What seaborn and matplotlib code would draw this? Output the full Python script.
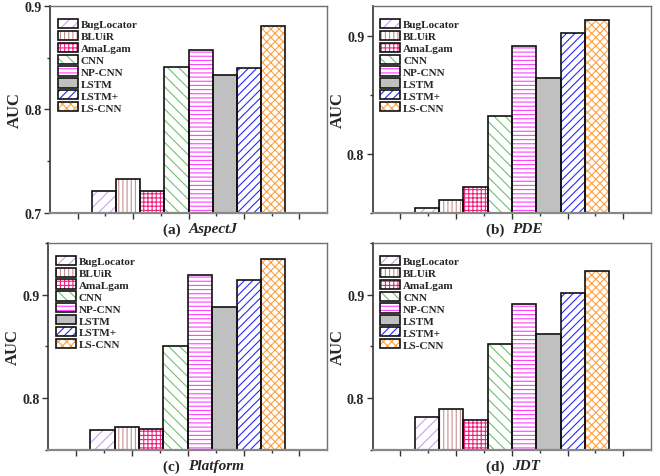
import matplotlib
matplotlib.use("Agg")
import matplotlib.pyplot as plt
from matplotlib.patches import Patch
from matplotlib.legend_handler import HandlerTuple
from matplotlib.ticker import MultipleLocator, FixedLocator
import seaborn as sns
import pandas as pd

methods = ["BugLocator", "BLUiR", "AmaLgam", "CNN", "NP-CNN", "LSTM", "LSTM+", "LS-CNN"]
aspectj = [0.721, 0.733, 0.721, 0.841, 0.857, 0.833, 0.840, 0.881]
pde = [0.754, 0.761, 0.772, 0.832, 0.891, 0.864, 0.902, 0.913]
platform = [0.769, 0.772, 0.770, 0.850, 0.919, 0.888, 0.914, 0.934]
jdt = [0.782, 0.790, 0.779, 0.852, 0.891, 0.862, 0.902, 0.923]

panel_labels = ["(a)", "(b)", "(c)", "(d)"]
panel_names = ["AspectJ", "PDE", "Platform", "JDT"]
panel_values = [aspectj, pde, platform, jdt]
ylims = [(0.7, 0.9), (0.75, 0.925), (0.75, 0.95), (0.75, 0.95)]

hatch_colors = ["#C9A0F5", "#C89090", "#F0207F", "#70C070", "#FF40FF", "#C0C0C0", "#2828FF", "#FFA040"]
face_colors = ["white", "white", "white", "white", "white", "#C0C0C0", "white", "white"]
hatches = ["///", "||||", "++++", "\\\\\\", "----", "", "////", "xxxx"]

sns.set_style("ticks")
plt.rcParams["font.family"] = ["Liberation Serif", "DejaVu Serif"]
plt.rcParams["font.weight"] = "bold"
plt.rcParams["hatch.linewidth"] = 0.8

fig = plt.figure(figsize=(6.6, 4.77), dpi=100)
positions = [
    [0.0758, 0.5514, 0.4197, 0.434],
    [0.5647, 0.5514, 0.4217, 0.434],
    [0.0732, 0.0545, 0.4227, 0.4346],
    [0.5647, 0.0545, 0.4217, 0.434],
]

for i in range(4):
    ax = fig.add_axes(positions[i])
    df = pd.DataFrame({"method": methods, "auc": panel_values[i]})
    sns.barplot(data=df, x="method", y="auc", hue="method", order=methods,
                hue_order=methods, palette=dict(zip(methods, face_colors)),
                width=1.0, legend=False, ax=ax, linewidth=0)
    for p, hc, h, fc in zip(ax.patches, hatch_colors, hatches, face_colors):
        p.set_facecolor(fc)
        p.set_edgecolor(hc)
        p.set_hatch(h)
        p.set_linewidth(0)
    sns.barplot(data=df, x="method", y="auc", order=methods, width=1.0,
                fill=False, edgecolor="#111111", linewidth=1.2, ax=ax,
                errorbar=None)
    ax.set_ylim(*ylims[i])
    ax.set_xlim(3.5 - 5.72, 3.5 + 5.72)
    ax.xaxis.set_major_locator(FixedLocator([3.5 + 2.29 * k for k in range(-2, 3)]))
    ax.xaxis.set_minor_locator(FixedLocator([3.5 + 2.29 * (k + 0.5) for k in range(-3, 3)]))
    ax.set_xticklabels([])
    ax.yaxis.set_major_locator(MultipleLocator(0.1))
    ax.yaxis.set_minor_locator(MultipleLocator(0.05))
    ax.tick_params(axis="both", which="major", direction="out", length=4, width=1, color="#333333")
    ax.tick_params(axis="both", which="minor", direction="out", length=2.5, width=1, color="#333333")
    ax.tick_params(axis="y", labelsize=10, pad=2)
    for lab in ax.get_yticklabels():
        lab.set_fontweight("bold")
    for side in ["top", "right"]:
        ax.spines[side].set_visible(True)
        ax.spines[side].set_color("#707070")
        ax.spines[side].set_linewidth(1.0)
    ax.spines["left"].set_color("#333333")
    ax.spines["left"].set_linewidth(1.2)
    ax.spines["bottom"].set_color("#888888")
    ax.spines["bottom"].set_linewidth(1.6)
    ax.set_ylabel("AUC", fontsize=12, fontweight="bold", labelpad=1)
    ax.set_xlabel("")
    ax.text(0.5, -0.077, panel_labels[i] + "  ", transform=ax.transAxes, ha="right",
            va="center", fontsize=11, fontweight="bold")
    ax.text(0.5, -0.077, panel_names[i], transform=ax.transAxes, ha="left",
            va="center", fontsize=11, fontweight="bold", fontstyle="italic")

    handles = []
    for hc, h, fc in zip(hatch_colors, hatches, face_colors):
        hp = Patch(facecolor=fc, edgecolor=hc, hatch=h, linewidth=0)
        op = Patch(facecolor="none", edgecolor="#111111", linewidth=1.2)
        handles.append((hp, op))
    leg = ax.legend(handles, methods, handler_map={tuple: HandlerTuple(ndivide=1, pad=0)},
                    loc="upper left", bbox_to_anchor=(0.0, 0.975), frameon=False,
                    prop={"weight": "bold", "size": 8}, handlelength=1.8,
                    handleheight=0.9, labelspacing=0.13, handletextpad=0.25,
                    borderaxespad=0.3)

fig.savefig("out.png", dpi=100)
